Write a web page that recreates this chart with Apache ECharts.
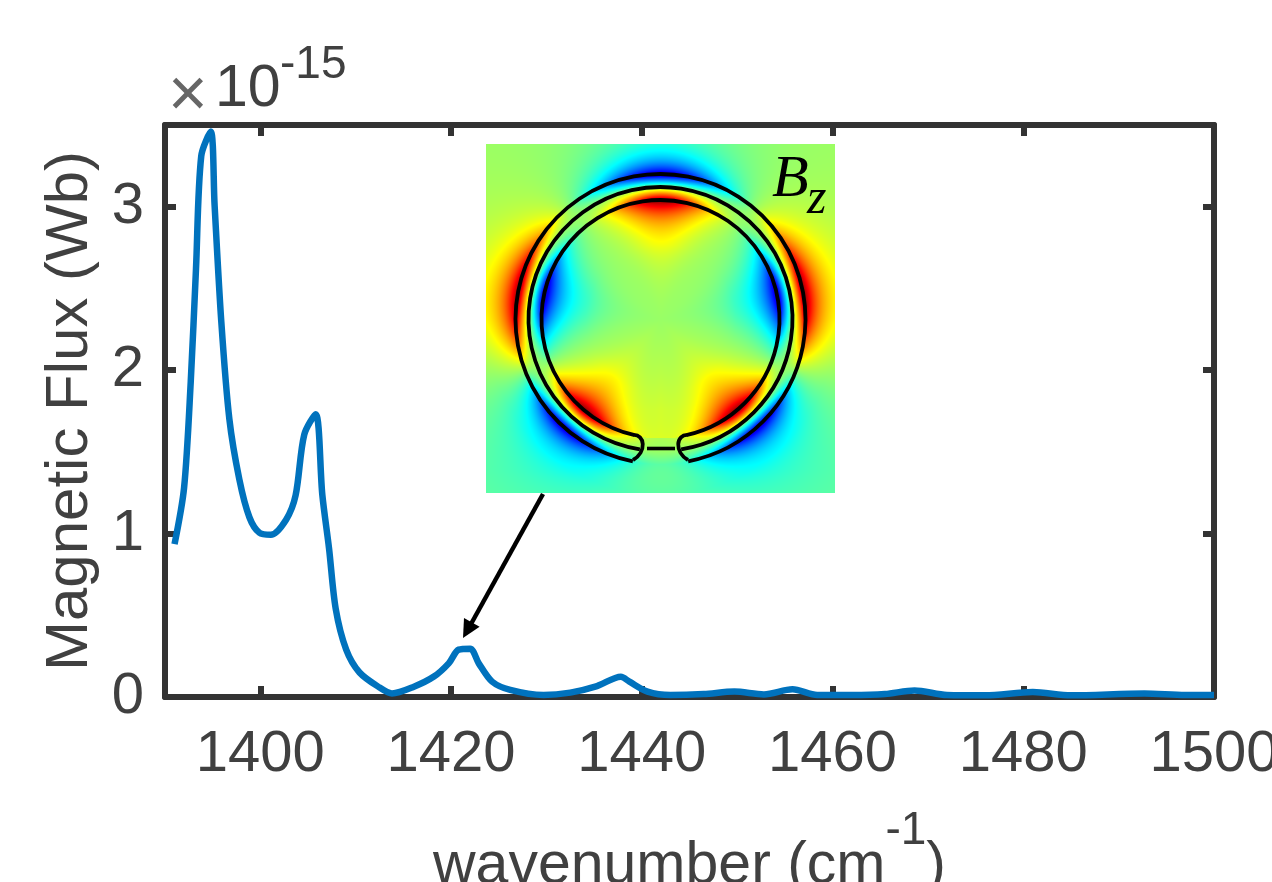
<!DOCTYPE html>
<html>
<head>
<meta charset="utf-8">
<style>html,body{margin:0;padding:0;background:#fff;overflow:hidden}#c{width:1272px;height:882px}</style>
<script src="https://cdn.jsdelivr.net/npm/echarts@6/dist/echarts.min.js"></script>
</head>
<body>
<div id="c"></div>
<script>
const wavenumber = [1391,1392,1392.7,1393.25,1393.8,1394.8,1395.2,1395.9,1396.75,1397.8,1398.85,1399.9,1401.1,1402.7,1403.7,1404.6,1405.8,1406.5,1407.2,1407.9,1409,1410.4,1412.5,1413.8,1416.1,1418.2,1419.75,1420.8,1422,1422.9,1424.3,1426.2,1429.7,1432.5,1435.3,1437.8,1438.7,1440.6,1443,1446.5,1449.7,1452.8,1455.8,1458.4,1462,1465.5,1468.6,1472,1476,1481,1485,1492.7,1497,1500];
const flux = [0.935,1.28,1.93,2.62,3.31,3.46,3.01,2.30,1.70,1.33,1.10,1.005,0.993,1.085,1.235,1.605,1.73,1.235,0.91,0.54,0.29,0.15,0.058,0.022,0.063,0.125,0.206,0.29,0.296,0.206,0.094,0.043,0.012,0.027,0.067,0.124,0.094,0.033,0.012,0.018,0.033,0.016,0.047,0.012,0.012,0.018,0.04,0.012,0.01,0.03,0.01,0.022,0.012,0.012];
const xTicks = [1400,1420,1440,1460,1480,1500];
const yTicks = [0,1,2,3];

// Inset picture: lobes around the ring [angle from top in degrees, sign, width]
const outerLobes = [[0,-1,30],[80,1,30],[-80,1,30],[137,-1,26],[-137,-1,26]];
const innerLobes = [[0,-1,23],[78,1,24],[-78,1,24],[140,-1,20],[-140,-1,20]];
const ring = {cx:660.5, cy:319, outer:145, mid:132, inner:119};
const inset = {x:486, y:144, size:349};

function jet(v){
  const c = t => Math.max(0, Math.min(1, 1.5 - Math.abs(4*v - t)));
  return [c(3)*255, c(2)*255, c(1)*255];
}
function lobeSum(list, th){
  let A = 0;
  for (const [a,s,w] of list){
    let d = Math.abs(th-a); if (d>180) d = 360-d;
    A += s*Math.exp(-(d/w)*(d/w));
  }
  return A;
}
function insetCanvas(){
  const cv = document.createElement('canvas');
  cv.width = cv.height = inset.size;
  const g = cv.getContext('2d');
  const img = g.createImageData(inset.size, inset.size);
  for (let j=0;j<inset.size;j++) for (let i=0;i<inset.size;i++){
    const dx = inset.x+i-ring.cx, dy = inset.y+j-ring.cy;
    const r = Math.hypot(dx,dy);
    const th = Math.atan2(dx,-dy)*180/Math.PI;
    const A = lobeSum(r>ring.mid ? outerLobes : innerLobes, th);
    let s;
    if (r>ring.outer){ const x=r-ring.outer; s = 0.72*Math.exp(-x/15)+0.28*Math.exp(-x/50); }
    else if (r<ring.inner){ const x=ring.inner-r; s = -(0.68*Math.exp(-x/17)+0.32*Math.exp(-x/55))*Math.min(1,r/75); }
    else s = (r-ring.mid)/((ring.outer-ring.inner)/2);
    let v = 0.525 + 0.47*A*s;
    if (r<ring.inner && dy>0) v += 0.05*Math.exp(-Math.abs(dx)/60)*Math.min(1,dy/90);
    if (r>ring.outer && dy>0) v -= 0.045*Math.min(1,dy/150)*Math.min(1,(r-ring.outer)/30);
    const c = jet(v), k = (j*inset.size+i)*4;
    img.data[k]=c[0]; img.data[k+1]=c[1]; img.data[k+2]=c[2]; img.data[k+3]=255;
  }
  g.putImageData(img,0,0);
  return cv;
}
function ringArc(r,phi){
  return {type:'arc', z:21, shape:{cx:ring.cx, cy:ring.cy, r:r,
    startAngle:(-phi-90)*Math.PI/180, endAngle:(phi-90)*Math.PI/180, clockwise:true},
    style:{stroke:'#000', fill:null, lineWidth:3.8}};
}
function cap(x1,y1,cx1,cy1,cx2,cy2,x2,y2){
  return {type:'bezierCurve', z:21, shape:{x1,y1,cpx1:cx1,cpy1:cy1,cpx2:cx2,cpy2:cy2,x2,y2},
    style:{stroke:'#000', fill:null, lineWidth:3.8}};
}
const FONT = '"Liberation Sans", Arial, sans-serif';
const INK = '#404040';
const chart = echarts.init(document.getElementById('c'), null, {renderer:'canvas', width:1272, height:882});
const lineAxis = {onZero:false, lineStyle:{color:'#333', width:6}};
const tickIn = (vals)=>({show:true, inside:true, length:11, customValues:vals, lineStyle:{color:'#333', width:6}});
chart.setOption({
  animation:false,
  backgroundColor:'#fff',
  grid:{left:165, right:58, top:125, bottom:185, containLabel:false, outerBoundsMode:'none'},
  xAxis:[{
    type:'value', min:1390, max:1500, position:'bottom',
    splitLine:{show:false}, axisLine:lineAxis, axisTick:tickIn(xTicks),
    axisLabel:{customValues:xTicks, formatter:v=>String(v), color:INK, fontFamily:FONT, fontSize:58, margin:29, hideOverlap:false},
    name:'{t|wavenumber (cm}{s|-1}{t|)}', nameLocation:'middle', nameGap:111,
    nameTextStyle:{rich:{t:{fontFamily:FONT,fontSize:59,color:INK},s:{fontFamily:FONT,fontSize:46,color:INK,padding:[0,0,72,0]}}}
  },{
    type:'value', min:1390, max:1500, position:'top',
    splitLine:{show:false}, axisLine:lineAxis, axisTick:tickIn(xTicks), axisLabel:{show:false}
  }],
  yAxis:[{
    type:'value', min:0, max:3.5, position:'left',
    splitLine:{show:false}, axisLine:lineAxis, axisTick:tickIn(yTicks),
    axisLabel:{customValues:yTicks, color:INK, fontFamily:FONT, fontSize:58, margin:21},
    name:'Magnetic Flux (Wb)', nameLocation:'middle', nameGap:63, nameRotate:90,
    nameTextStyle:{fontFamily:FONT, fontSize:60, color:INK}
  },{
    type:'value', min:0, max:3.5, position:'right',
    splitLine:{show:false}, axisLine:lineAxis, axisTick:tickIn(yTicks), axisLabel:{show:false}
  }],
  series:[{
    type:'line', xAxisIndex:0, yAxisIndex:0, z:5,
    data:wavenumber.map((w,i)=>[w,flux[i]]),
    showSymbol:false, smooth:0.3, clip:false,
    lineStyle:{color:'#0072BD', width:6.5, join:'round'}
  }],
  graphic:[
    {type:'image', z:20, x:inset.x, y:inset.y, style:{image:insetCanvas(), width:inset.size, height:inset.size}},
    ringArc(ring.outer,169), ringArc(ring.mid,171), ringArc(ring.inner,167),
    cap(633,435,645,434,647,452,633,460),
    cap(688,435,676,434,674,452,688,460),
    {type:'line', z:21, shape:{x1:647,y1:448.5,x2:675,y2:448.5}, style:{stroke:'#000', lineWidth:3.6}},
    {type:'text', z:22, x:772, y:150, style:{text:'B', font:'italic 60px "Liberation Serif", serif', fill:'#000'}},
    {type:'text', z:22, x:807, y:175, style:{text:'z', font:'italic 50px "Liberation Serif", serif', fill:'#000'}},
    {type:'line', z:15, shape:{x1:543,y1:494,x2:471,y2:624}, style:{stroke:'#000', lineWidth:4.5}},
    {type:'polygon', z:15, shape:{points:[[463,638],[479.6,626.7],[464,617.9]]}, style:{fill:'#000'}},
    {type:'text', z:22, x:168, y:63, style:{text:'×', font:'68px '+FONT, fill:'#666'}},
    {type:'text', z:22, x:215, y:60, style:{text:'10', font:'59px '+FONT, fill:INK}},
    {type:'text', z:22, x:280, y:42, style:{text:'-15', font:'46px '+FONT, fill:INK}}
  ]
});
</script>
</body>
</html>
